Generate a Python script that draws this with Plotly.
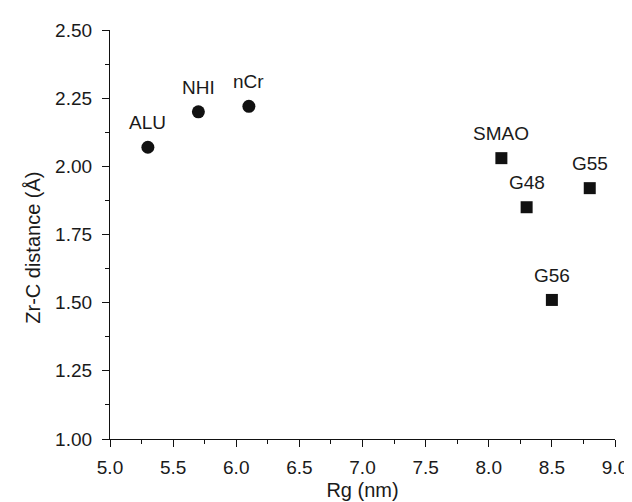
import plotly.graph_objects as go

circle_labels = ["ALU", "NHI", "nCr"]
circle_x = [5.3, 5.7, 6.1]
circle_y = [2.07, 2.20, 2.22]

square_labels = ["SMAO", "G48", "G55", "G56"]
square_x = [8.1, 8.3, 8.8, 8.5]
square_y = [2.03, 1.85, 1.92, 1.51]

x_ticks = [5.0, 5.5, 6.0, 6.5, 7.0, 7.5, 8.0, 8.5, 9.0]
y_ticks = [1.00, 1.25, 1.50, 1.75, 2.00, 2.25, 2.50]

FAM = "Liberation Sans, Arial, sans-serif"
tick_font = dict(family=FAM, size=19, color="#1a1a1a")
label_font = dict(family=FAM, size=19, color="#1a1a1a")
title_font = dict(family=FAM, size=20, color="#1a1a1a")

fig = go.Figure()
fig.add_trace(go.Scatter(
    x=circle_x, y=circle_y, mode="markers",
    marker=dict(symbol="circle", size=13, color="#111111"),
))
fig.add_trace(go.Scatter(
    x=square_x, y=square_y, mode="markers",
    marker=dict(symbol="square", size=12, color="#111111"),
))

for labels, xs, ys in [(circle_labels, circle_x, circle_y), (square_labels, square_x, square_y)]:
    for t, xv, yv in zip(labels, xs, ys):
        fig.add_annotation(
            x=xv, y=yv, text=t, showarrow=False, font=label_font,
            xanchor="center", yanchor="bottom", yshift=12,
        )

axis_common = dict(
    showline=True, linecolor="#111111", linewidth=1.2,
    ticks="outside", ticklen=7, tickwidth=1.2, tickcolor="#111111",
    showgrid=False, zeroline=False, tickfont=tick_font, mirror=False,
)
fig.update_xaxes(
    range=[5.0, 9.0], tickvals=x_ticks, ticktext=[f"{v:.1f}" for v in x_ticks],
    minor=dict(dtick=0.25, tick0=5.0, ticks="outside", ticklen=4, tickcolor="#111111", tickwidth=1.2),
    title=dict(text="Rg (nm)", font=title_font, standoff=6), ticklabelstandoff=4,
    ticklabeloverflow="allow", **axis_common,
)
fig.update_yaxes(
    range=[1.0, 2.5], tickvals=y_ticks, ticktext=[f"{v:.2f}" for v in y_ticks],
    minor=dict(dtick=0.125, tick0=1.0, ticks="outside", ticklen=4, tickcolor="#111111", tickwidth=1.2),
    ticklabelstandoff=6, ticklabeloverflow="allow", **axis_common,
)
fig.add_annotation(
    text="Zr-C distance (Å)", textangle=-90, font=title_font,
    xref="paper", yref="paper", x=-0.153, y=0.467,
    xanchor="center", yanchor="middle", showarrow=False,
)
fig.update_layout(
    width=632, height=502, showlegend=False,
    plot_bgcolor="white", paper_bgcolor="white",
    margin=dict(l=102, r=12, t=21, b=61),
)
fig.write_html("out.html")
